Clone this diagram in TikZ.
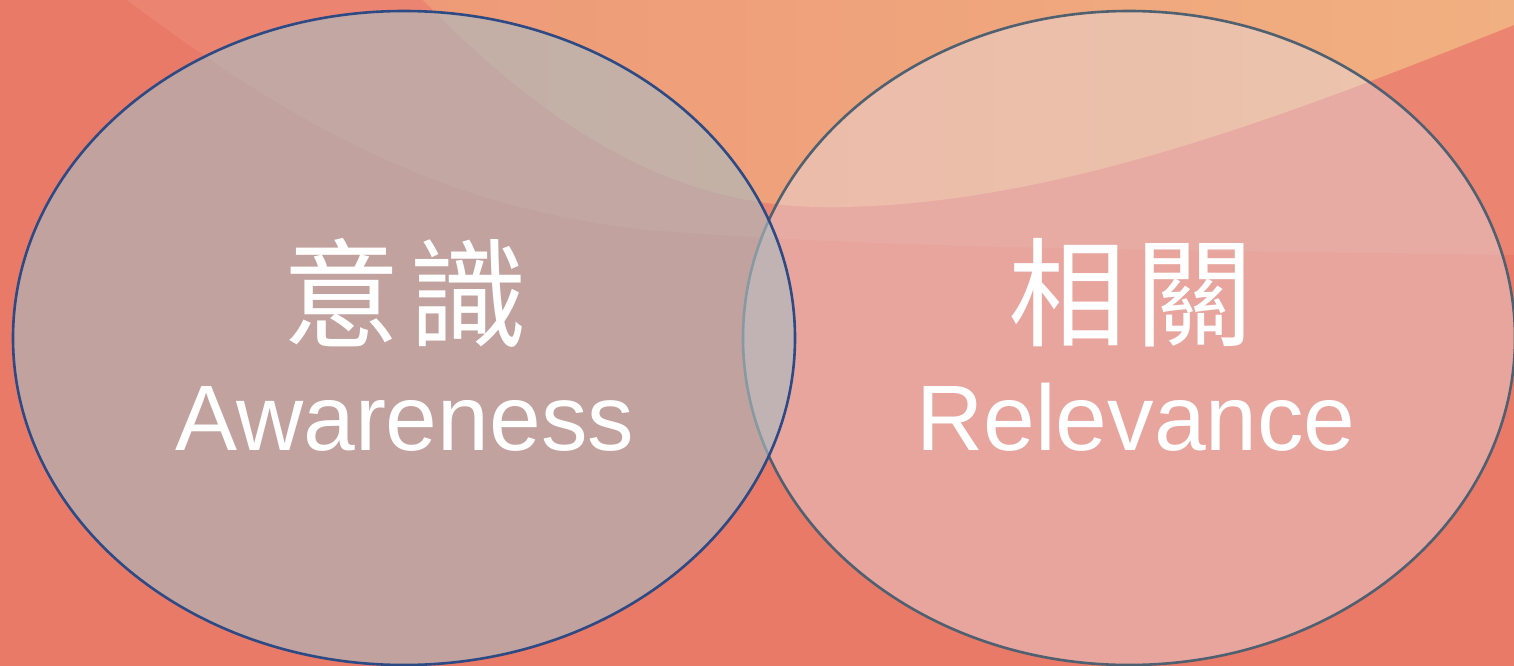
\documentclass[tikz,border=0pt]{standalone}
\usepackage{fontspec}
\setmainfont{Liberation Sans}
\newfontfamily\cjk{Noto Sans CJK TC}
\usetikzlibrary{shapes.geometric}
\definecolor{coral}{HTML}{E97A68}
\definecolor{band}{HTML}{EB8571}
\definecolor{peachL}{HTML}{EE9A78}
\definecolor{peachR}{HTML}{F1B081}
\definecolor{greyfill}{HTML}{AABCC2}
\definecolor{navy}{HTML}{2D4A85}
\definecolor{pinkfill}{HTML}{E6E3EC}
\definecolor{slate}{HTML}{4F6070}
\begin{document}
\begin{tikzpicture}[x=1pt,y=-1pt,
  circ/.style={ellipse,inner sep=0pt,outer sep=0pt,line width=2.6pt},
  zh/.style={text=white,font=\cjk\fontsize{118}{118}\selectfont,inner sep=0pt},
  en/.style={text=white,font=\fontsize{93}{93}\selectfont,inner sep=0pt,anchor=base}]
\useasboundingbox (0,0) rectangle (1514,666);
% background
\fill[coral] (0,0) rectangle (1514,666);
\fill[band] (127,0) .. controls (300,130) and (450,210) .. (650,230)
  .. controls (900,250) and (1200,250) .. (1514,255) -- (1514,0) -- cycle;
\shade[left color=peachL,right color=peachR] (423,0) .. controls (560,140) and (680,205) .. (820,207)
  .. controls (1050,210) and (1300,110) .. (1514,25) -- (1514,0) -- cycle;
% the two sets
\node[circ,draw=slate,fill=pinkfill,fill opacity=.41,minimum width=772pt,minimum height=654pt] (relev) at (1129,338) {};
\node[circ,draw=navy,fill=greyfill,fill opacity=.62,minimum width=782pt,minimum height=654pt] (aware) at (404,338) {};
% labels
\node[zh] (awarezh) at (405,293) {意\hspace{9pt}識};
\node[en] (awareen) at (405,450) {Awareness};
\node[zh] (relevzh) at (1131,293) {相\hspace{9pt}關};
\node[en] (releven) at (1136,450) {Relevance};
\end{tikzpicture}
\end{document}
